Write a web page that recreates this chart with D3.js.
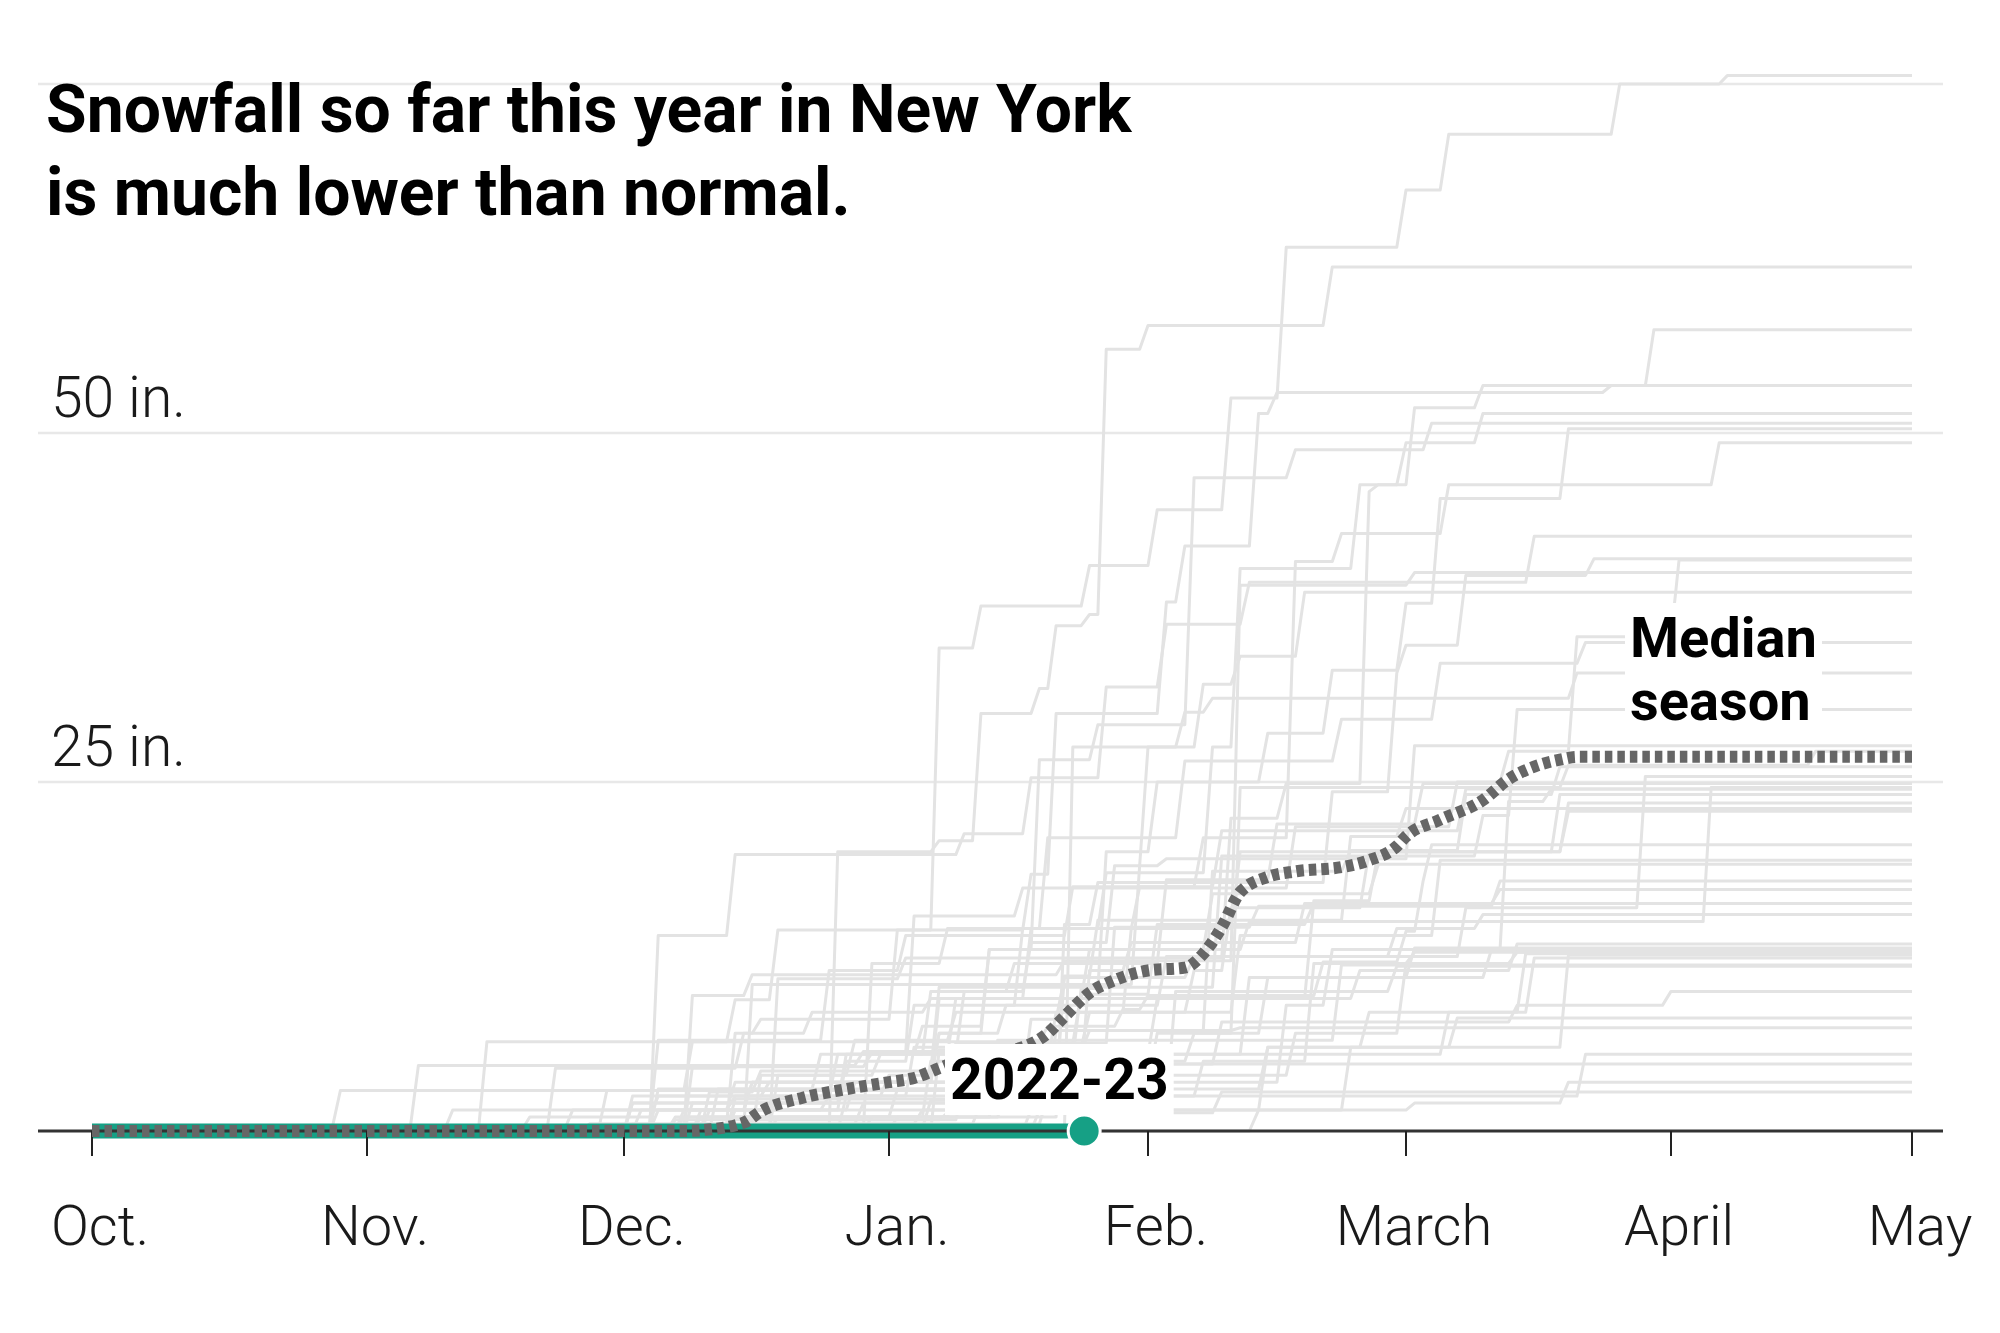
<!DOCTYPE html>
<html><head><meta charset="utf-8">
<script src="https://cdn.jsdelivr.net/npm/d3@7"></script>
<style>
body{margin:0;background:#fff}
svg{display:block}
text{font-family:Roboto,"Noto Sans","DejaVu Sans",sans-serif}
</style>
</head><body>
<svg id="chart" width="2000" height="1333"></svg>
<script>
// ---------- DATA ----------
const monthTicks  = ["10-01","11-01","12-01","01-01","02-01","03-01","04-01","05-01"];
const monthLabels = ["Oct.","Nov.","Dec.","Jan.","Feb.","March","April","May"];
const yTicks      = [25, 50, 75];
const yTickLabels = ["25 in.", "50 in.", ""];

const seasonNames = [
 "1970-71","1971-72","1972-73","1973-74","1974-75","1975-76","1976-77","1977-78","1978-79","1979-80",
 "1980-81","1981-82","1982-83","1983-84","1984-85","1985-86","1986-87","1987-88","1988-89","1989-90",
 "1990-91","1991-92","1992-93","1993-94","1994-95","1995-96","1996-97","1997-98","1998-99","1999-00",
 "2000-01","2001-02","2002-03","2003-04","2004-05","2005-06","2006-07","2007-08","2008-09","2009-10",
 "2010-11","2011-12","2012-13","2013-14","2014-15","2015-16","2016-17","2017-18","2018-19","2019-20",
 "2020-21","2021-22"
];
// snowfall events per season: [date, inches]
const seasonEvents = [
 [["12-27",2.5],["01-01",1.5],["01-07",3.0],["01-15",2.0],["02-03",3.5],["02-28",2.0],["03-10",1.0]],
 [["11-25",1.5],["12-14",1.0],["01-14",3.0],["02-02",4.0],["02-19",7.0],["02-26",3.5],["03-20",2.9]],
 [["12-16",0.8],["01-08",0.5],["02-09",1.5]],
 [["12-17",4.0],["12-28",2.5],["01-09",2.0],["02-06",3.0],["02-10",4.5],["02-25",4.0],["03-20",3.5]],
 [["12-02",2.0],["12-27",1.5],["01-12",2.0],["02-12",5.5],["03-02",2.1]],
 [["12-14",2.3],["01-09",4.0],["01-24",3.5],["02-02",5.0],["02-19",1.5],["03-12",1.0]],
 [["11-20",1.0],["12-05",1.5],["12-26",3.0],["01-09",4.0],["01-18",5.0],["01-31",3.0],["02-09",4.0],["03-08",3.0]],
 [["12-05",1.5],["12-14",2.0],["01-07",3.5],["01-13",6.0],["01-19",13.6],["01-26",2.5],["02-06",17.7],["02-17",2.0],["03-04",1.9]],
 [["12-02",0.5],["01-20",2.0],["02-07",2.5],["02-19",7.0],["03-02",0.8]],
 [["11-27",0.5],["12-29",1.5],["01-30",2.0],["02-17",3.0],["03-01",5.0],["03-14",0.8]],
 [["12-08",1.5],["12-25",1.0],["01-04",3.5],["01-25",2.5],["02-11",5.5],["03-05",5.4]],
 [["12-05",3.0],["12-24",2.5],["01-05",2.0],["01-13",5.5],["02-12",2.0],["04-06",9.6]],
 [["12-12",3.0],["01-16",2.0],["02-06",2.0],["02-11",17.6],["03-20",1.6],["04-19",1.0]],
 [["12-14",1.5],["12-28",2.0],["01-18",4.5],["01-22",3.0],["02-06",1.5],["03-08",3.5],["03-29",9.4]],
 [["12-07",1.0],["01-06",4.0],["01-21",3.5],["01-30",6.0],["02-11",5.5],["03-19",4.1]],
 [["12-02",2.0],["01-17",1.5],["02-02",3.5],["02-14",4.0],["03-11",2.0]],
 [["12-10",1.0],["01-02",2.0],["01-22",8.1],["01-26",4.0],["02-23",6.0],["03-01",2.0]],
 [["11-11",1.5],["12-16",2.0],["01-07",6.0],["01-25",3.5],["02-08",4.0],["02-26",2.1]],
 [["12-15",0.5],["01-05",1.0],["02-23",4.5],["03-07",2.1]],
 [["11-23",4.5],["12-15",2.5],["12-23",1.5],["01-06",1.0],["02-24",2.0],["03-14",1.9]],
 [["12-09",2.0],["12-27",3.5],["01-06",4.5],["01-16",2.0],["02-03",6.0],["02-15",4.0],["03-03",2.9]],
 [["12-08",1.0],["01-09",2.0],["02-14",3.0],["03-20",6.6]],
 [["12-11",1.5],["01-28",2.0],["02-16",5.5],["02-21",4.0],["03-13",10.6],["03-18",0.9]],
 [["12-10",1.5],["12-27",3.5],["01-04",4.0],["01-17",5.5],["01-27",4.0],["02-08",9.0],["02-11",12.8],["02-24",6.0],["03-02",5.5],["03-10",1.6]],
 [["12-28",0.5],["01-12",1.5],["02-04",8.0],["02-28",1.8]],
 [["11-29",2.9],["12-09",3.5],["12-14",3.0],["12-19",5.0],["01-07",20.2],["01-12",3.0],["01-25",2.9],["02-02",4.0],["02-10",8.0],["02-16",10.8],["03-01",4.1],["03-06",4.0],["03-26",3.6],["04-08",0.6]],
 [["12-07",0.8],["01-10",2.5],["01-17",1.5],["02-09",3.0],["03-14",1.2],["04-01",1.0]],
 [["12-30",1.0],["01-15",1.5],["03-22",3.0]],
 [["01-02",1.0],["01-14",3.5],["01-25",1.0],["03-06",3.0],["03-15",4.2]],
 [["01-18",1.5],["01-20",2.5],["01-25",7.5],["01-30",2.0],["02-18",2.8]],
 [["12-30",12.0],["01-08",2.5],["01-20",6.5],["02-05",5.5],["02-22",3.0],["03-05",4.0],["03-22",1.5]],
 [["01-19",1.5],["03-02",0.5],["03-20",1.5]],
 [["11-27",0.5],["12-05",6.0],["12-25",5.0],["01-03",2.5],["01-23",3.5],["02-07",3.5],["02-17",19.8],["02-22",2.0],["03-06",3.5],["04-07",3.0]],
 [["12-05",14.0],["12-14",5.8],["01-10",1.5],["01-18",4.0],["01-27",6.5],["02-03",4.5],["02-12",3.0],["03-16",3.3]],
 [["12-19",1.0],["01-22",13.8],["01-26",3.0],["02-21",6.5],["02-28",8.5],["03-01",2.0],["03-08",5.0],["03-23",1.2]],
 [["12-09",9.7],["12-16",1.5],["01-22",1.0],["02-11",26.9],["03-02",0.9]],
 [["02-13",1.5],["02-14",4.5],["02-25",2.5],["03-16",3.9]],
 [["12-03",1.5],["12-16",2.0],["01-14",3.0],["02-22",5.4]],
 [["12-19",4.0],["12-31",1.5],["01-10",4.5],["01-18",3.5],["01-28",5.5],["02-03",0.5],["03-02",8.1]],
 [["12-19",10.9],["01-03",1.5],["02-10",10.0],["02-16",2.5],["02-25",20.9],["02-26",0.5],["03-01",3.0],["03-10",2.1]],
 [["12-26",20.0],["01-07",0.8],["01-12",9.1],["01-19",1.8],["01-21",4.5],["01-25",0.8],["01-27",19.0],["02-01",1.7],["02-21",4.2]],
 [["10-29",2.9],["01-21",4.3],["02-11",0.2]],
 [["11-07",4.7],["12-29",1.0],["01-25",1.5],["02-08",11.4],["02-23",1.5],["03-08",4.0],["03-19",2.0]],
 [["12-10",0.5],["12-14",6.5],["12-17",1.0],["01-02",6.4],["01-18",4.0],["01-21",11.5],["02-03",8.0],["02-05",4.0],["02-13",9.5],["02-15",1.5],["03-25",0.5],["03-30",4.0]],
 [["11-26",0.2],["01-06",2.0],["01-21",3.0],["01-24",5.0],["01-27",9.8],["02-02",5.0],["02-14",3.5],["02-21",4.5],["03-01",4.8],["03-05",7.5],["03-20",5.0]],
 [["01-23",27.5],["02-05",2.5],["02-08",1.0],["03-21",1.8]],
 [["12-11",2.8],["12-17",1.5],["01-07",6.0],["02-09",9.4],["03-10",2.9],["03-14",7.6]],
 [["12-09",4.6],["12-30",1.0],["01-04",9.8],["01-17",2.0],["02-17",4.4],["03-07",3.2],["03-13",2.2],["03-21",8.2],["04-02",5.5]],
 [["11-15",6.4],["01-20",1.1],["01-29",1.2],["02-01",1.0],["02-20",2.4],["03-01",2.2],["03-03",3.6],["03-04",2.6]],
 [["12-02",2.5],["12-18",1.0],["01-18",1.3]],
 [["12-16",10.5],["01-31",8.5],["02-01",8.5],["02-07",4.5],["02-11",2.0],["02-18",4.6]],
 [["01-07",5.8],["01-16",0.5],["01-28",8.3],["02-13",1.5],["03-12",1.8]]
];

const medianDates  = ["10-01","12-08","12-10","12-15","12-17","12-22","12-27","01-01","01-04","01-07","01-11","01-17","01-20","01-22","01-25","01-28","02-01","02-05","02-07","02-09","02-11","02-14","02-17","02-22","02-25","02-28","03-01","03-05","03-10","03-13","03-16","03-19","03-21","05-01"];
const medianValues = [0,0,0.05,0.6,1.4,2.4,3.0,3.5,3.8,4.5,5.4,6.0,7.0,8.2,9.9,10.8,11.5,11.7,12.7,14.6,17.1,18.2,18.6,18.9,19.4,20.4,21.1,22.3,23.7,25.2,26.1,26.6,26.8,26.8];

const currentLabel  = "2022-23";
const currentDates  = ["10-01","01-24"];
const currentValues = [0, 0];

const titleLines  = ["Snowfall so far this year in New York", "is much lower than normal."];
const medianLabel = ["Median", "season"];

// ---------- HELPERS ----------
function toDate(md){
  const [m,d] = md.split("-").map(Number);
  return new Date(m >= 7 ? 2000 : 2001, m-1, d);
}

const svg = d3.select("#chart");

const x = d3.scaleTime()
  .domain(monthTicks.map(toDate))
  .range([92, 367, 624, 889, 1148, 1406, 1671, 1912]);
const y = d3.scaleLinear().domain([0, 75]).range([1131, 84]);

const line = d3.line().x(d => x(d[0])).y(d => y(d[1]));

function cumulative(events){
  const pts = [[toDate("10-01"), 0]];
  let c = 0;
  for (const [md, amt] of events){
    const d = toDate(md);
    pts.push([d3.timeDay.offset(d, -1), c]);
    c += amt;
    pts.push([d, c]);
  }
  pts.push([toDate("05-01"), c]);
  return pts;
}

// ---------- GRIDLINES ----------
svg.append("g").selectAll("line").data(yTicks).join("line")
  .attr("x1", 38).attr("x2", 1943)
  .attr("y1", d => y(d)).attr("y2", d => y(d))
  .attr("stroke", "#e8e8e8").attr("stroke-width", 2.5);

// ---------- SEASON LINES ----------
svg.append("g").selectAll("path").data(seasonEvents).join("path")
  .attr("d", ev => line(cumulative(ev)))
  .attr("fill", "none")
  .attr("stroke", "#e3e3e3")
  .attr("stroke-width", 3)
  .attr("stroke-linejoin", "round");

// ---------- CURRENT SEASON ----------
const curPts = currentDates.map((d,i) => [toDate(d), currentValues[i]]);
svg.append("path")
  .attr("d", line(curPts))
  .attr("fill", "none")
  .attr("stroke", "#16a085")
  .attr("stroke-width", 15);

// ---------- X AXIS ----------
const axisG = svg.append("g");
axisG.append("line")
  .attr("x1", 38).attr("x2", 1943)
  .attr("y1", y(0)).attr("y2", y(0))
  .attr("stroke", "#333").attr("stroke-width", 3);
axisG.selectAll(".tick").data(monthTicks).join("line")
  .attr("x1", d => x(toDate(d))).attr("x2", d => x(toDate(d)))
  .attr("y1", y(0)).attr("y2", y(0) + 25)
  .attr("stroke", "#222").attr("stroke-width", 2);
axisG.selectAll(".lbl").data(monthTicks).join("text")
  .attr("x", d => x(toDate(d)) + 8)
  .attr("y", 1245)
  .attr("text-anchor", "middle")
  .attr("font-size", 56)
  .attr("font-weight", 300)
  .attr("fill", "#1a1a1a")
  .text((d,i) => monthLabels[i]);

// ---------- MEDIAN ----------
const medPts = medianDates.map((d,i) => [toDate(d), medianValues[i]]);
svg.append("path")
  .attr("d", d3.line().x(d => x(d[0])).y(d => y(d[1])).curve(d3.curveMonotoneX)(medPts))
  .attr("fill", "none")
  .attr("stroke", "#666")
  .attr("stroke-width", 12)
  .attr("stroke-dasharray", "7.5,5");

// ---------- CURRENT DOT ----------
const last = curPts[curPts.length-1];
svg.append("circle")
  .attr("cx", x(last[0]) + 3).attr("cy", y(last[1]))
  .attr("r", 16)
  .attr("fill", "#16a085")
  .attr("stroke", "#fff").attr("stroke-width", 3);

// ---------- Y LABELS ----------
svg.append("g").selectAll("text").data(yTicks).join("text")
  .attr("x", 51).attr("y", d => y(d) - 16)
  .attr("font-size", 57)
  .attr("font-weight", 300)
  .attr("fill", "#1a1a1a")
  .text((d,i) => yTickLabels[i]);

// ---------- LABEL WITH BACKGROUND ----------
function boxedText(lines, x0, baselines, size){
  const g = svg.append("g");
  const rect = g.append("rect").attr("fill", "#fff");
  lines.forEach((t,i) => g.append("text")
    .attr("x", x0).attr("y", baselines[i])
    .attr("font-size", size).attr("font-weight", 700)
    .attr("fill", "#000").text(t));
  const bb = g.node().getBBox();
  rect.attr("x", bb.x - 5).attr("y", bb.y - 2)
      .attr("width", bb.width + 10).attr("height", bb.height + 4);
  return g;
}

boxedText([currentLabel], 950, [1099], 57);
boxedText(medianLabel, 1630, [657, 720], 56);

// ---------- TITLE ----------
svg.append("g").selectAll("text").data(titleLines).join("text")
  .attr("x", 46).attr("y", (d,i) => 132 + i*83)
  .attr("font-size", 66)
  .attr("font-weight", 700)
  .attr("fill", "#000")
  .text(d => d);
</script>
</body></html>
